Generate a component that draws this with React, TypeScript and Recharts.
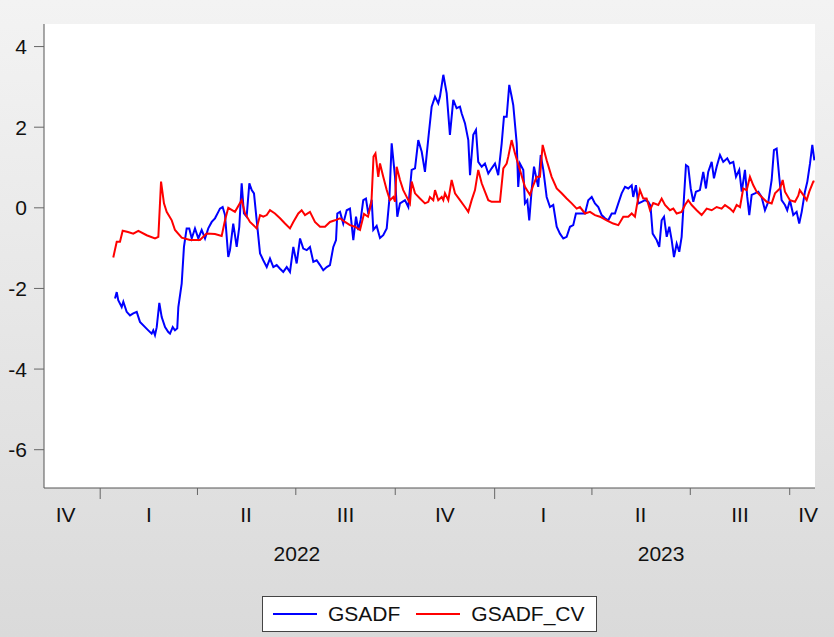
import React from "react";
import { LineChart, Line, XAxis, YAxis, CartesianGrid, Legend } from "recharts";

// days since 2022-01-01
const quarterStartDays = [0, 90, 181, 273, 365, 455, 546, 638];
const yearStartDays = [0, 365];
const quarterLabelDays = [-32, 45, 135, 227, 319, 410, 500, 592, 655];
const quarterLabels = ["IV", "I", "II", "III", "IV", "I", "II", "III", "IV"];
const yearLabelDays = [182, 519];
const yearLabels = ["2022", "2023"];
const yTicks = [-6, -4, -2, 0, 2, 4];

const gsadfDay = [
  13.7, 15.3, 16.7, 19.9, 21.4, 24.5, 27.6, 30.6, 33.8, 36.8, 41.5, 44.5, 47.6, 49.1, 50.7, 52.3,
  54.7, 56.9, 60.0, 63.0, 64.6, 67.1, 69.2, 71.3, 72.3, 75.4, 77.5, 80.0, 82.4, 84.7, 87.7, 90.8,
  93.9, 97.0, 100.0, 103.2, 106.2, 109.3, 110.8, 113.3, 115.5, 118.5, 120.1, 123.1, 126.3, 128.7,
  130.9, 133.0, 135.5, 138.0, 140.2, 142.3, 144.8, 147.9, 150.9, 154.1, 157.1, 160.2, 163.3, 166.4,
  169.4, 172.6, 175.6, 178.7, 181.8, 184.9, 187.9, 191.1, 194.1, 197.2, 200.3, 203.4, 206.4, 209.6,
  212.6, 215.7, 218.2, 219.4, 221.9, 224.9, 228.1, 231.1, 234.2, 236.7, 238.8, 241.0, 243.4, 245.9,
  248.1, 251.2, 252.7, 255.8, 258.9, 261.9, 265.1, 267.5, 269.7, 272.8, 274.9, 277.4, 282.0, 285.1,
  288.2, 291.3, 294.3, 297.5, 300.5, 303.6, 306.7, 309.8, 312.8, 314.4, 317.5, 320.6, 323.6, 326.7,
  329.8, 332.9, 334.5, 337.5, 340.6, 342.2, 345.2, 347.7, 349.8, 353.0, 356.0, 359.1, 362.2, 365.3,
  368.3, 371.5, 373.6, 376.1, 378.5, 380.7, 382.2, 385.4, 386.8, 388.4, 391.5, 393.0, 395.2, 397.0,
  399.2, 401.4, 403.9, 405.3, 407.6, 410.0, 413.1, 416.2, 419.2, 422.4, 425.4, 428.5, 431.6, 434.7,
  437.7, 440.2, 443.9, 448.6, 451.6, 454.8, 457.8, 460.9, 464.0, 467.1, 470.1, 473.3, 476.3, 479.4,
  482.5, 485.6, 488.6, 491.8, 493.2, 495.7, 497.9, 501.0, 504.1, 507.1, 509.2, 511.2, 514.9, 517.3,
  519.5, 521.7, 524.2, 526.6, 528.8, 530.9, 533.4, 535.8, 538.0, 540.2, 542.0, 544.1, 546.4, 548.8,
  551.2, 554.9, 558.0, 560.5, 562.6, 565.8, 567.9, 570.4, 573.5, 576.5, 580.2, 582.7, 585.8, 588.3,
  591.3, 593.6, 596.6, 598.7, 600.6, 602.8, 605.9, 608.9, 612.0, 615.1, 618.2, 621.3, 623.4, 625.9,
  628.3, 630.5, 633.6, 635.7, 638.2, 641.3, 644.4, 646.8, 649.1, 652.1, 654.3, 656.8, 658.9, 660.8,
];
const gsadfValue = [
  -2.25, -2.09, -2.29, -2.46, -2.33, -2.58, -2.67, -2.62, -2.58, -2.83, -2.96, -3.04, -3.12, -3.04, -3.16, -2.96,
  -2.36, -2.71, -2.96, -3.08, -3.12, -2.96, -3.04, -2.99, -2.46, -1.88, -0.97, -0.51, -0.51, -0.76, -0.51, -0.76,
  -0.55, -0.76, -0.51, -0.35, -0.26, -0.1, -0.02, 0.02, -0.18, -1.22, -1.05, -0.39, -0.97, -0.47,
  0.61, -0.14, -0.22, 0.61, 0.44, 0.36, -0.31, -1.13, -1.3, -1.47, -1.26, -1.47, -1.42, -1.51,
  -1.59, -1.47, -1.59, -0.97, -1.38, -0.76, -1.01, -1.05, -0.97, -1.34, -1.3, -1.42, -1.55, -1.47,
  -1.42, -0.97, -0.8, -0.14, -0.1, -0.39, -0.06, -0.02, -0.8, -0.22, -0.55, -0.3, 0.19, 0.23,
  -0.15, 0.2, -0.55, -0.45, -0.75, -0.68, -0.51, 0.19, 1.6, 0.77, -0.22, 0.11, 0.19, 0.02,
  0.94, 0.98, 1.68, 1.39, 0.89, 1.72, 2.51, 2.76, 2.59, 2.76, 3.3, 2.84, 1.81, 2.68,
  2.47, 2.51, 2.34, 2.1, 1.68, 0.81, 1.81, 1.93, 1.14, 1.02, 1.1, 0.85, 0.98, 1.1,
  0.81, 1.6, 2.26, 2.26, 3.05, 2.76, 2.55, 1.6, 0.52, 1.1, 0.94, 0.11, 0.19, -0.31,
  0.44, 1.02, 0.69, 0.52, 1.31, 0.94, 0.27, 0.02, 0.07, -0.47, -0.64, -0.76, -0.72, -0.47,
  -0.43, -0.14, -0.14, -0.14, 0.19, 0.27, 0.11, 0.02, -0.18, -0.26, -0.31, -0.14, -0.14, 0.11,
  0.36, 0.52, 0.48, 0.56, 0.27, 0.56, 0.11, 0.15, 0.19, 0.15, 0.05, -0.64, -0.8, -0.97,
  -0.31, -0.22, -0.72, -0.47, -0.8, -1.22, -0.89, -1.09, -0.72, 0.27, 1.06, 1.02, 0.48, 0.15,
  0.4, 0.44, 0.89, 0.48, 0.89, 1.14, 0.73, 1.02, 1.31, 1.14, 1.23, 1.1, 1.14, 0.77,
  0.94, 0.4, 0.94, 0.27, -0.18, 0.32, 0.36, 0.4, 0.27, -0.06, 0.15, 0.69, 1.43, 1.47,
  0.77, 0.19, 0.07, -0.06, 0.19, -0.18, -0.1, -0.39, -0.1, 0.4, 0.65, 1.1, 1.56, 1.18,
];

const cvDay = [
  12.1, 15.3, 18.3, 20.8, 25.7, 30.6, 35.3, 43.0, 50.7, 53.8, 56.3, 59.0, 61.5, 66.2, 69.2, 75.4,
  83.1, 92.3, 98.5, 106.2, 112.4, 115.5, 118.5, 124.7, 130.9, 134.0, 138.6, 144.8, 147.9, 150.9,
  154.1, 157.1, 161.7, 166.4, 171.0, 175.6, 178.7, 183.3, 186.4, 189.5, 194.1, 198.7, 203.4, 208.0,
  212.6, 217.2, 221.9, 226.5, 231.1, 235.8, 240.4, 244.1, 247.8, 251.0, 252.9, 254.7, 257.3, 258.9,
  261.9, 265.1, 268.1, 271.2, 272.8, 274.3, 277.4, 280.4, 285.1, 286.6, 288.2, 291.3, 295.9, 300.5,
  303.6, 305.1, 308.2, 309.8, 312.8, 316.0, 317.5, 319.0, 322.1, 325.2, 328.3, 332.9, 337.5, 340.6,
  343.7, 346.8, 349.8, 353.0, 356.0, 359.1, 362.2, 366.9, 369.9, 373.0, 376.1, 377.6, 380.7, 383.8,
  388.4, 393.0, 397.7, 400.7, 403.9, 406.9, 409.4, 413.1, 417.7, 422.4, 427.0, 431.6, 436.3, 440.9,
  443.9, 448.6, 453.2, 457.8, 462.4, 468.6, 474.7, 479.4, 484.0, 488.6, 491.8, 494.8, 496.9, 499.4,
  502.5, 505.6, 508.7, 511.7, 516.4, 519.5, 522.6, 527.2, 530.3, 533.4, 538.0, 541.1, 544.1, 547.3,
  551.9, 556.5, 561.2, 565.8, 570.4, 575.0, 578.1, 582.7, 585.8, 588.9, 592.0, 595.0, 598.2, 601.2,
  604.3, 607.4, 612.0, 616.7, 621.3, 624.4, 629.0, 631.5, 633.6, 638.2, 642.9, 645.9, 647.3, 650.5,
  653.7, 656.1, 659.8, 660.9,
];
const cvValue = [
  -1.23, -0.84, -0.84, -0.57, -0.6, -0.64, -0.57, -0.68, -0.76, -0.72, 0.65, 0.11, -0.1, -0.31, -0.55, -0.74,
  -0.8, -0.8, -0.64, -0.65, -0.7, -0.31, 0.0, -0.1, 0.19, -0.14, -0.35, -0.51, -0.18, -0.22,
  -0.18, -0.06, -0.14, -0.26, -0.39, -0.51, -0.35, -0.14, -0.06, -0.18, -0.1, -0.35, -0.47, -0.47,
  -0.35, -0.31, -0.26, -0.35, -0.43, -0.47, -0.55, -0.15, -0.22, 0.15, 1.27, 1.35, 0.77, 1.1,
  0.77, 0.44, 0.19, 0.27, 0.15, 1.02, 0.69, 0.44, 0.19, 0.11, 0.65, 0.36, 0.23, 0.11,
  0.15, 0.27, 0.19, 0.44, 0.19, 0.27, 0.19, 0.36, 0.19, 0.69, 0.36, 0.19, 0.02, -0.1,
  0.19, 0.44, 0.94, 0.61, 0.4, 0.19, 0.15, 0.15, 0.15, 0.98, 1.1, 1.27, 1.68, 1.35,
  0.94, 0.52, 0.32, 0.56, 0.77, 0.77, 1.56, 1.18, 0.77, 0.48, 0.36, 0.23, 0.11, -0.02,
  0.02, -0.14, -0.1, -0.18, -0.22, -0.31, -0.39, -0.43, -0.22, -0.22, -0.14, -0.22, 0.11, 0.44,
  0.23, 0.23, -0.05, 0.12, 0.07, 0.23, 0.07, -0.06, -0.02, -0.14, -0.1, 0.07, 0.19, 0.07,
  -0.06, -0.18, -0.02, -0.06, 0.02, -0.02, 0.07, -0.02, -0.1, 0.07, 0.02, 0.48, 0.44, 0.77,
  0.56, 0.4, 0.27, 0.15, 0.11, 0.36, 0.48, 0.69, 0.4, 0.19, 0.15, 0.3, 0.44, 0.32,
  0.19, 0.4, 0.65, 0.66,
];

const gsadfData = gsadfDay.map((d, i) => ({ day: d, value: gsadfValue[i] }));
const cvData = cvDay.map((d, i) => ({ day: d, value: cvValue[i] }));

const FONT = '"Liberation Sans", Arial, Helvetica, sans-serif';
const FRAME = "#555";
const xDomain = [-52, 661.4];
const yDomain = [-6.95, 4.56];

const QuarterTick = (props: any) => {
  const { x, y, payload } = props;
  const len = yearStartDays.includes(payload.value) ? 11 : 7;
  return <line x1={x} y1={y} x2={x} y2={y + len} stroke="#666" strokeWidth={1} />;
};

const LegendBox = (props: any) => {
  const items = props.payload || [];
  return (
    <div
      style={{
        boxSizing: "border-box",
        width: 335,
        height: 36,
        background: "#fff",
        border: "1px solid #444",
        display: "flex",
        alignItems: "center",
        paddingLeft: 10,
        fontFamily: FONT,
        fontSize: 21,
        color: "#111",
      }}
    >
      {items.map((it: any) => (
        <div key={it.value} style={{ display: "flex", alignItems: "center", marginRight: 16 }}>
          <svg width={44} height={4} style={{ marginRight: 11 }}>
            <line x1={0} y1={2} x2={44} y2={2} stroke={it.color} strokeWidth={2} />
          </svg>
          <span>{it.value}</span>
        </div>
      ))}
    </div>
  );
};

export default function App() {
  return (
    <div
      style={{
        position: "absolute",
        left: 0,
        top: 0,
        width: 834,
        height: 637,
        background: "linear-gradient(#f3f3f3, #dadada)",
      }}
    >
      <LineChart
        width={834}
        height={637}
        margin={{ top: 24, right: 19, left: 0, bottom: 67 }}
        style={{ fontFamily: FONT }}
      >
        <CartesianGrid fill="#fff" horizontal={false} vertical={false} xAxisId="main" yAxisId="left" />
        <XAxis
          xAxisId="main"
          type="number"
          dataKey="day"
          domain={xDomain}
          allowDataOverflow
          ticks={quarterStartDays}
          interval={0}
          tick={<QuarterTick />}
          tickLine={false}
          tickSize={0}
          tickMargin={0}
          height={12}
          axisLine={{ stroke: FRAME }}
        />
        <XAxis
          xAxisId="qlab"
          type="number"
          dataKey="day"
          domain={xDomain}
          allowDataOverflow
          ticks={quarterLabelDays}
          interval={0}
          tickFormatter={(_v: number, i: number) => quarterLabels[i]}
          tick={{ fontSize: 21, fill: "#111" }}
          tickLine={false}
          axisLine={false}
          tickSize={0}
          tickMargin={7}
          height={40}
        />
        <XAxis
          xAxisId="ylab"
          type="number"
          dataKey="day"
          domain={xDomain}
          allowDataOverflow
          ticks={yearLabelDays}
          interval={0}
          tickFormatter={(_v: number, i: number) => yearLabels[i]}
          tick={{ fontSize: 21, fill: "#111" }}
          tickLine={false}
          axisLine={false}
          tickSize={0}
          tickMargin={6}
          height={30}
        />
        <XAxis
          xAxisId="top"
          orientation="top"
          type="number"
          domain={xDomain}
          allowDataOverflow
          tick={false}
          tickLine={false}
          height={0}
          axisLine={{ stroke: FRAME }}
        />
        <YAxis
          yAxisId="left"
          type="number"
          domain={yDomain}
          allowDataOverflow
          ticks={yTicks}
          interval={0}
          width={44}
          tickSize={10}
          tickMargin={7}
          tick={{ fontSize: 21, fill: "#111" }}
          tickLine={{ stroke: "#666" }}
          axisLine={{ stroke: FRAME }}
        />
        <YAxis
          yAxisId="right"
          orientation="right"
          type="number"
          domain={yDomain}
          allowDataOverflow
          tick={false}
          tickLine={false}
          width={0}
          axisLine={{ stroke: FRAME }}
        />
        <Line
          xAxisId="main"
          yAxisId="left"
          data={gsadfData}
          dataKey="value"
          name="GSADF"
          type="linear"
          stroke="#0000ff"
          strokeWidth={2}
          dot={false}
          isAnimationActive={false}
        />
        <Line
          xAxisId="main"
          yAxisId="left"
          data={cvData}
          dataKey="value"
          name="GSADF_CV"
          type="linear"
          stroke="#ff0000"
          strokeWidth={2}
          dot={false}
          isAnimationActive={false}
        />
        <Legend
          verticalAlign="middle"
          align="center"
          content={<LegendBox />}
          wrapperStyle={{ left: 262, top: 596, width: 335, height: 36 }}
        />
      </LineChart>
    </div>
  );
}
